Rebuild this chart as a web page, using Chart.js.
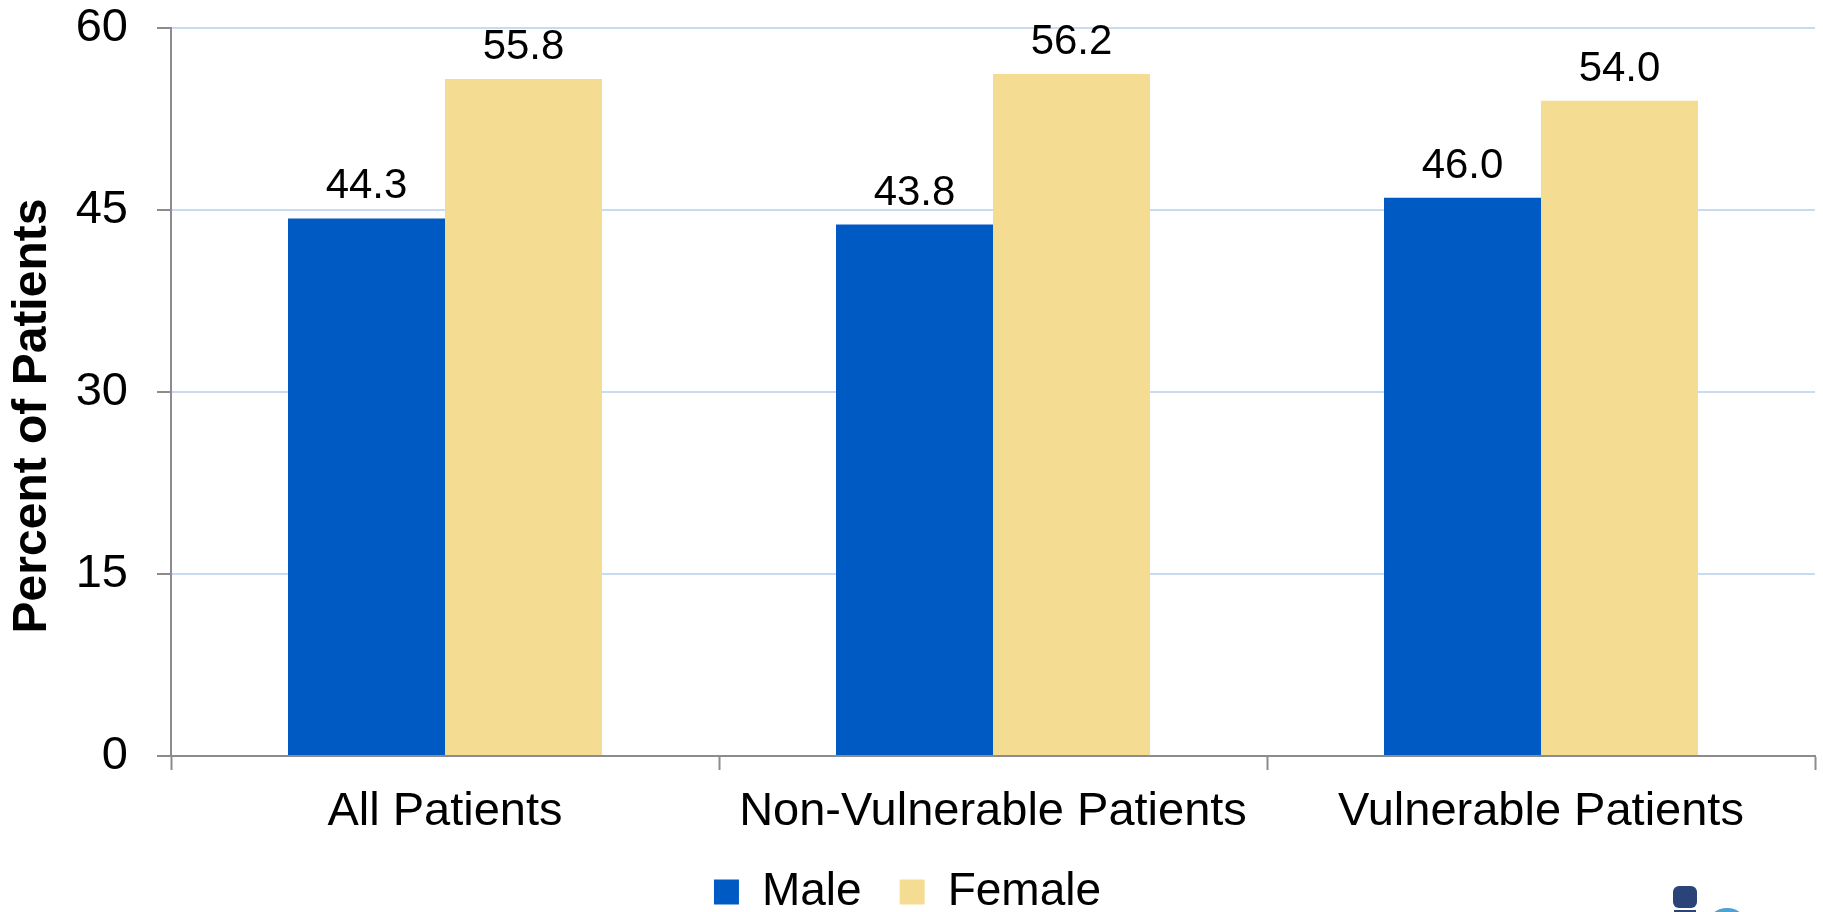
<!DOCTYPE html>
<html>
<head>
<meta charset="utf-8">
<script src="https://cdn.jsdelivr.net/npm/chart.js@4.4.1/dist/chart.umd.min.js"></script>
<style>
  html, body { margin: 0; padding: 0; background: #ffffff; }
  #wrap { width: 1823px; height: 912px; position: relative; }
</style>
</head>
<body>
<div id="wrap"><canvas id="chart" width="1823" height="912"></canvas></div>
<script>
// Patient groups and the share of male / female patients in each (%)
const categories = ['All Patients', 'Non-Vulnerable Patients', 'Vulnerable Patients'];
const maleValues = [44.3, 43.8, 46.0];
const femaleValues = [55.8, 56.2, 54.0];
const seriesNames = ['Male', 'Female'];
const yTicks = [0, 15, 30, 45, 60];
const yAxisTitle = 'Percent of Patients';

const FONT = "'Liberation Sans', Arial, Helvetica, sans-serif";
const BLUE = '#005AC4';
const SAND = '#F4DD92';
const AXIS = '#8C8C8C';
const GRID = '#C8DBF0';

// Value labels above each bar, positioned from the bar elements
const valueLabels = {
  id: 'valueLabels',
  afterDatasetsDraw(chart) {
    const ctx = chart.ctx;
    ctx.save();
    ctx.font = '42px ' + FONT;
    ctx.fillStyle = '#000000';
    ctx.textAlign = 'center';
    ctx.textBaseline = 'alphabetic';
    chart.data.datasets.forEach((ds, i) => {
      chart.getDatasetMeta(i).data.forEach((bar, j) => {
        ctx.fillText(ds.data[j].toFixed(1), bar.x, bar.y - 20);
      });
    });
    ctx.restore();
  }
};

// Rotated y-axis title
const axisTitle = {
  id: 'axisTitle',
  afterDraw(chart) {
    const ctx = chart.ctx;
    ctx.save();
    ctx.translate(33, 416);
    ctx.rotate(-Math.PI / 2);
    ctx.font = 'bold 48px ' + FONT;
    ctx.fillStyle = '#000000';
    ctx.textAlign = 'center';
    ctx.textBaseline = 'middle';
    ctx.fillText(yAxisTitle, 0, 0);
    ctx.restore();
  }
};

// Small emblem in the lower right corner
const cornerMark = {
  id: 'cornerMark',
  afterDraw(chart) {
    const ctx = chart.ctx;
    ctx.save();
    ctx.fillStyle = '#2A4379';
    ctx.beginPath();
    ctx.roundRect(1673, 886, 24, 22, 6);
    ctx.fill();
    ctx.fillRect(1674, 910, 22, 2);
    ctx.fillStyle = '#4DA1D3';
    ctx.beginPath();
    ctx.ellipse(1727, 926, 20, 18, 0, 0, Math.PI * 2);
    ctx.fill();
    ctx.restore();
  }
};

// Keep the legend band compact at the bottom of the canvas
const LEGEND_PAD = 38;
const legendHeight = {
  id: 'legendHeight',
  beforeLayout(chart) {
    const lg = chart.legend;
    if (lg && !lg._compactFit) {
      const fit = lg.fit;
      lg.fit = function () {
        fit.call(this);
        this.height = 43 + LEGEND_PAD;
      };
      lg._compactFit = true;
    }
  }
};

new Chart(document.getElementById('chart'), {
  type: 'bar',
  data: {
    labels: categories,
    datasets: [
      { label: seriesNames[0], data: maleValues, backgroundColor: BLUE, borderWidth: 0,
        categoryPercentage: 0.573, barPercentage: 1.0 },
      { label: seriesNames[1], data: femaleValues, backgroundColor: SAND, borderWidth: 0,
        categoryPercentage: 0.573, barPercentage: 1.0 }
    ]
  },
  options: {
    responsive: false,
    animation: false,
    devicePixelRatio: 1,
    layout: { padding: { left: 0, right: 8, top: 0, bottom: 0 } },
    plugins: {
      legend: {
        display: true,
        position: 'bottom',
        labels: {
          font: { family: FONT, size: 46 },
          color: '#000000',
          boxWidth: 25,
          boxHeight: 25,
          padding: LEGEND_PAD
        }
      },
      tooltip: { enabled: false },
      title: { display: false }
    },
    scales: {
      x: {
        grid: {
          display: true,
          drawOnChartArea: false,
          drawTicks: true,
          tickLength: 14,
          tickColor: AXIS,
          tickWidth: 2,
          offset: true
        },
        border: { display: true, color: AXIS, width: 2 },
        ticks: {
          font: { family: FONT, size: 47 },
          color: '#000000',
          padding: 14,
          maxRotation: 0,
          autoSkip: false
        },
        afterFit(scale) { scale.height = 75; }
      },
      y: {
        min: 0,
        max: 60,
        afterBuildTicks(scale) { scale.ticks = yTicks.map(v => ({ value: v })); },
        grid: {
          display: true,
          drawOnChartArea: true,
          drawTicks: true,
          tickLength: 14,
          tickColor: AXIS,
          tickWidth: 2,
          color: ctx => (ctx.tick && ctx.tick.value === 0) ? 'rgba(0,0,0,0)' : GRID,
          lineWidth: 2
        },
        border: { display: true, color: AXIS, width: 2 },
        ticks: {
          font: { family: FONT, size: 47 },
          color: '#000000',
          padding: 29
        },
        afterFit(scale) {
          scale.width = 171;
          scale.paddingTop = 28;
          scale.paddingBottom = 0;
        }
      }
    }
  },
  plugins: [valueLabels, axisTitle, cornerMark, legendHeight]
});
</script>
</body>
</html>
